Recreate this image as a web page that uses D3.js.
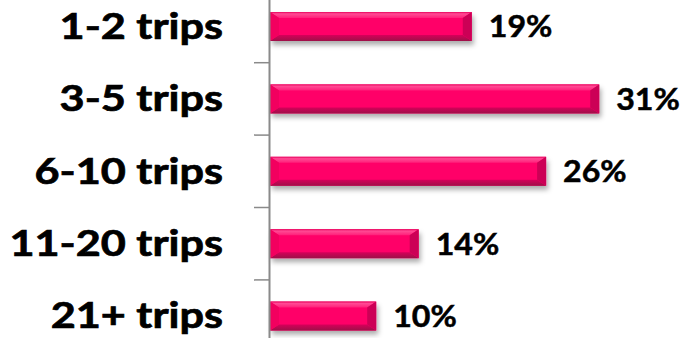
<!DOCTYPE html>
<html>
<head>
<meta charset="utf-8">
<script src="https://cdn.jsdelivr.net/npm/d3@7"></script>
<style>
  html, body { margin: 0; padding: 0; background: #fff; }
  svg { display: block; }
</style>
</head>
<body>
<svg id="chart" width="686" height="338"></svg>
<script>
// Trip-frequency categories and the share of respondents in each
const categories = ["1-2 trips", "3-5 trips", "6-10 trips", "11-20 trips", "21+ trips"];
const values = [19, 31, 26, 14, 10];
const valueLabels = ["19%", "31%", "26%", "14%", "10%"];

const W = 686, H = 338;
const svg = d3.select("#chart");

const x = d3.scaleLinear().domain([0, 40]).range([270, 270 + 40 * 10.62]);
const y = d3.scaleBand().domain(categories).range([-9.7, 352.3]).paddingInner(0.6).paddingOuter(0.3);

const defs = svg.append("defs");
const shadow = defs.append("filter").attr("id", "shadow")
  .attr("x", "-10%").attr("y", "-40%").attr("width", "130%").attr("height", "200%");
shadow.append("feDropShadow").attr("dx", 2).attr("dy", 4).attr("stdDeviation", 2.6)
  .attr("flood-color", "#000").attr("flood-opacity", 0.32);

const topGrad = defs.append("linearGradient").attr("id", "topFacet")
  .attr("x1", 0).attr("y1", 0).attr("x2", 0).attr("y2", 1);
topGrad.append("stop").attr("offset", "0%").attr("stop-color", "#e8005c");
topGrad.append("stop").attr("offset", "30%").attr("stop-color", "#ff4a94");
topGrad.append("stop").attr("offset", "100%").attr("stop-color", "#ff1f7a");

const botGrad = defs.append("linearGradient").attr("id", "botFacet")
  .attr("x1", 0).attr("y1", 0).attr("x2", 0).attr("y2", 1);
botGrad.append("stop").attr("offset", "0%").attr("stop-color", "#d6005a");
botGrad.append("stop").attr("offset", "100%").attr("stop-color", "#9e1048");

const rows = categories.map((c, i) => ({ cat: c, v: values[i], label: valueLabels[i] }));

// Bars with bevelled faces
const bx = 9, by = 6;
const bars = svg.append("g").selectAll("g.bar").data(rows).join("g").attr("class", "bar");
bars.append("rect")
  .attr("x", x(0)).attr("y", d => y(d.cat))
  .attr("width", d => x(d.v) - x(0)).attr("height", y.bandwidth())
  .attr("fill", "#ff0468").attr("filter", "url(#shadow)");
const facet = pts => pts.map(p => p.join(",")).join(" ");
bars.append("polygon").attr("fill", "url(#topFacet)")
  .attr("points", d => {
    const x0 = x(0), x1 = x(d.v), y0 = y(d.cat);
    return facet([[x0, y0], [x1, y0], [x1 - bx, y0 + by], [x0 + bx, y0 + by]]);
  });
bars.append("polygon").attr("fill", "url(#botFacet)")
  .attr("points", d => {
    const x0 = x(0), x1 = x(d.v), y1 = y(d.cat) + y.bandwidth();
    return facet([[x0, y1], [x1, y1], [x1 - bx, y1 - by], [x0 + bx, y1 - by]]);
  });
bars.append("polygon").attr("fill", "#f2005f")
  .attr("points", d => {
    const x0 = x(0), y0 = y(d.cat), y1 = y0 + y.bandwidth();
    return facet([[x0, y0], [x0 + bx, y0 + by], [x0 + bx, y1 - by], [x0, y1]]);
  });
bars.append("polygon").attr("fill", "#cc0056")
  .attr("points", d => {
    const x1 = x(d.v), y0 = y(d.cat), y1 = y0 + y.bandwidth();
    return facet([[x1, y0], [x1 - bx, y0 + by], [x1 - bx, y1 - by], [x1, y1]]);
  });

// Stretch text horizontally a little for the condensed-bold look
function widen(sel, k) {
  sel.each(function () {
    const len = this.getComputedTextLength();
    d3.select(this).attr("textLength", len * k).attr("lengthAdjust", "spacingAndGlyphs");
  });
}

// Value labels at the bar ends
const vl = svg.append("g").selectAll("text").data(rows).join("text")
  .attr("x", d => x(d.v) + 17)
  .attr("y", d => y(d.cat) + y.bandwidth() / 2)
  .attr("dy", "0.36em")
  .attr("font-family", "Lato, 'Open Sans', sans-serif")
  .attr("font-weight", 700)
  .attr("font-size", 30)
  .attr("fill", "#000")
  .attr("stroke", "#000").attr("stroke-width", 0.5)
  .text(d => d.label);
widen(vl, 1.07);

// Category axis
const axis = svg.append("g").attr("transform", "translate(269,0)")
  .call(d3.axisLeft(y).tickSizeInner(0).tickSizeOuter(0).tickPadding(46));
axis.select(".domain").attr("stroke", "#8a8a8a").attr("stroke-width", 2);
const tl = axis.selectAll(".tick text")
  .attr("font-family", "Lato, 'Open Sans', sans-serif")
  .attr("font-weight", 700)
  .attr("font-size", 36)
  .attr("fill", "#000")
  .attr("stroke", "#000").attr("stroke-width", 0.7)
  .attr("dy", "0.34em");
widen(tl, 1.2);

// Tick marks between categories
const bounds = categories.slice(0, -1).map(c => y(c) + y.bandwidth() + y.step() * y.paddingInner() / 2);
axis.selectAll("line.sep").data(bounds).join("line").attr("class", "sep")
  .attr("x1", -15).attr("x2", 0).attr("y1", d => d).attr("y2", d => d)
  .attr("stroke", "#8a8a8a").attr("stroke-width", 1.5);
</script>
</body>
</html>
